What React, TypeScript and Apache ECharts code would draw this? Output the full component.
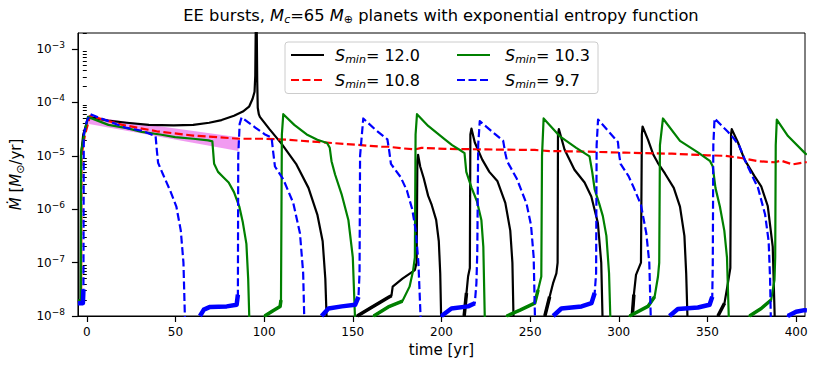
import { useEffect, useRef } from 'react';
import * as echarts from 'echarts';

const FONT = '"DejaVu Sans", "Liberation Sans", sans-serif';

// axis definitions (x in years, y in log10 of Mdot [Msun/yr])
const xTickValues = [0, 50, 100, 150, 200, 250, 300, 350, 400];
const xMin = -5;
const xMax = 405;
const yDecades = [-8, -7, -6, -5, -4, -3];
const yMin = -8;
const yMax = Math.log10(2e-3);
const yMinorTicks: number[] = [];
for (let e = -8; e <= -3; e++) {
  for (let k = 2; k <= 9; k++) {
    const v = e + Math.log10(k);
    if (v <= yMax + 1e-9) yMinorTicks.push(v);
  }
}

// ---- S_min = 12.0 (black, solid) ----
const blackT = [
  -5, -3.5, -3.3, -2, 0.9, 12, 22.5, 35, 49, 60, 69, 76, 83, 88, 91.5, 93.5, 94.6, 95.0, 95.3, 95.8, 96.1, 96.4, 97.0, 97.6,
  103, 110, 118, 125, 130, 133, 134.5, 135.2, 135.4,
  152.3, 152.5, 160, 165, 170.2, 171.8, 172.5, 178, 185, 186.0, 186.4, 186.8, 188, 190, 192.5, 194.5, 197, 198.5, 199.3, 199.8, 200,
  212.6, 212.8, 214.1, 215.0, 216.0, 216.3, 216.9, 218.8, 223, 227, 231.5, 236, 238.8, 240, 240.6, 240.8,
  258.1, 258.3, 261, 262.9, 264.8, 265.5, 265.7, 266.2, 269.4, 275, 280.7, 284.5, 288.2, 290.1, 290.8, 291.0,
  307.4, 307.6, 308.5, 309.7, 312.5, 313.0, 313.4, 316.5, 319.5, 322, 326, 331, 334.5, 337, 338, 338.7, 338.9,
  355.7, 355.9, 359.6, 361.5, 362.9, 363.3, 363.7, 367.2, 370.9, 376.5, 380.3, 384, 386.8, 387.9, 388.1, 406,
];
const blackLogMdot = [
  -7.72, -7.72, -5.0, -4.6, -4.27, -4.34, -4.38, -4.42, -4.43, -4.42, -4.38, -4.33, -4.25, -4.17, -4.08, -3.93, -3.8, -3.5, -2.5, -2.5, -3.6, -4.1, -4.22, -4.27,
  -4.5, -4.78, -5.15, -5.6, -6.1, -6.6, -7.3, -8.0, -8.6,
  -8.6, -8.0, -7.85, -7.75, -7.65, -7.62, -7.45, -7.3, -7.14, -7.0, -5.1, -4.98, -5.2, -5.42, -5.75, -5.92, -6.2, -6.6, -7.2, -8.0, -8.6,
  -8.6, -8.0, -7.57, -7.26, -7.1, -4.6, -4.49, -4.75, -5.07, -5.3, -5.47, -5.88, -6.4, -7.0, -8.0, -8.6,
  -8.6, -8.0, -7.64, -7.39, -7.2, -7.0, -4.6, -4.5, -4.88, -5.26, -5.5, -5.76, -6.26, -7.0, -8.0, -8.6,
  -8.6, -8.0, -7.6, -7.23, -7.0, -4.6, -4.45, -4.7, -4.98, -5.13, -5.33, -5.6, -5.95, -6.5, -7.2, -8.0, -8.6,
  -8.6, -8.0, -7.76, -7.39, -7.1, -4.6, -4.5, -4.75, -5.07, -5.38, -5.57, -5.94, -6.7, -8.0, -8.6, -8.6,
];

// ---- S_min = 10.8 (red, dashed) ----
const redT = [
  -5, -3.2, -3.0, -1, 1.9, 20, 39.4, 60, 86, 100.5, 113.7, 130, 151.3, 166.3, 170, 178, 185, 188.7, 201.9, 225, 252.6, 261,
  280, 303.3, 330, 350.2, 360, 369, 378.4, 387.8, 391.5, 398, 404.7, 406,
];
const redLogMdot = [
  -7.72, -7.72, -5.0, -4.6, -4.25, -4.42, -4.54, -4.62, -4.68, -4.68, -4.7, -4.74, -4.79, -4.83, -4.83, -4.86, -4.88, -4.85, -4.87, -4.88, -4.89, -4.91,
  -4.92, -4.94, -4.96, -4.99, -5.0, -5.04, -5.1, -5.12, -5.09, -5.16, -5.12, -5.12,
];

// ---- S_min = 10.3 (green, solid) ----
const greenT = [
  -5, -3.4, -3.2, -1.5, 0.6, 12.2, 22.5, 31, 41.3, 49.8, 60, 68.5, 70.8, 71.8, 74, 77, 80, 83, 86, 88, 90, 91, 91.6, 91.8,
  100.0, 100.3, 105, 109, 109.5, 110.0, 110.8, 117, 124, 130, 135.5, 137, 138, 140, 143.7, 147.5, 150, 151.2, 151.4,
  161.6, 161.8, 170, 178, 182, 184, 185.0, 185.4, 186.2, 192.5, 201.9, 206, 211.3, 213, 214, 217, 220, 222.5, 223.6, 224.4, 224.6,
  236.6, 236.8, 244.3, 252.6, 254.5, 256.3, 256.7, 257.6, 266.6, 276, 283.5, 285, 286.4, 289, 291, 293, 294.5, 295.2, 295.4,
  305.9, 306.1, 316.4, 320.2, 322.1, 322.8, 323.2, 324.9, 334.5, 344.8, 351.5, 353, 354.5, 357, 359.5, 361, 362, 362.2,
  373.5, 373.7, 380.3, 385.9, 387.8, 388.2, 388.5, 389.1, 395.4, 404.7, 406,
];
const greenLogMdot = [
  -7.72, -7.72, -4.94, -4.6, -4.27, -4.42, -4.48, -4.55, -4.6, -4.65, -4.68, -4.71, -4.73, -5.15, -5.3, -5.4, -5.5, -5.68, -5.95, -6.25, -6.65, -7.3, -8.0, -8.6,
  -8.6, -8.0, -7.9, -7.82, -7.7, -4.6, -4.22, -4.42, -4.6, -4.7, -4.76, -4.85, -5.1, -5.35, -5.72, -6.2, -6.9, -8.0, -8.6,
  -8.6, -8.0, -7.83, -7.72, -7.45, -7.15, -6.9, -4.6, -4.22, -4.44, -4.69, -4.8, -4.91, -4.95, -5.3, -5.6, -5.85, -6.2, -6.7, -8.0, -8.6,
  -8.6, -8.0, -7.89, -7.76, -7.51, -7.26, -5.0, -4.3, -4.63, -4.85, -5.01, -5.3, -5.63, -5.9, -6.13, -6.5, -7.2, -8.0, -8.6,
  -8.6, -8.0, -7.82, -7.64, -7.26, -7.0, -4.8, -4.3, -4.72, -4.94, -5.1, -5.2, -5.6, -5.95, -6.4, -6.9, -8.0, -8.6,
  -8.6, -8.0, -7.86, -7.7, -7.32, -6.9, -4.8, -4.32, -4.63, -4.94, -4.98,
];

// ---- S_min = 9.7 (blue, dashed) ----
const blueT = [
  -5, -2.2, -1.9, -1.7, 0, 1.9, 12.2, 21.6, 31, 38.8, 39.5, 40.2, 43, 47, 50.5, 53, 54.5, 55.3, 55.5,
  63.6, 63.8, 66, 69.5, 78.9, 84.5, 85.2, 85.4, 86.2, 87.3, 95, 100.5, 104.2, 105, 106.1, 110.8, 116.4, 120.2, 122, 122.6, 122.8,
  132.2, 132.4, 136.3, 143.8, 151.3, 153.2, 153.8, 154.1, 155.9, 162.4, 169.5, 170.5, 171.5, 177, 180.5, 183.5, 185.5, 187, 188.2, 188.4,
  199.8, 200, 205.6, 215, 218.8, 219.7, 220.2, 220.7, 221.6, 234.8, 236, 237, 242.5, 248, 250.5, 252, 252.7, 252.9,
  262.8, 263, 267.6, 279, 284.6, 286.4, 287.2, 287.5, 288.3, 299.5, 300.3, 301, 305.5, 308.5, 312.5, 315.5, 317.2, 318, 318.2,
  328.4, 328.6, 333.3, 344.6, 351.2, 352.7, 353.0, 353.3, 354, 361.5, 365, 368, 372, 378.5, 382.5, 384.5, 385.3, 385.7, 385.9,
  395.1, 395.3, 400, 404.7, 406,
];
const blueLogMdot = [
  -7.76, -7.76, -7.5, -4.6, -4.35, -4.22, -4.35, -4.47, -4.53, -4.63, -4.9, -5.13, -5.35, -5.65, -5.95, -6.4, -7.0, -8.0, -8.6,
  -8.6, -8.0, -7.88, -7.83, -7.82, -7.79, -7.6, -5.0, -4.4, -4.28, -4.47, -4.6, -4.66, -4.9, -5.2, -5.44, -5.88, -6.45, -7.19, -8.0, -8.6,
  -8.6, -8.0, -7.86, -7.82, -7.79, -7.64, -7.2, -5.0, -4.3, -4.5, -4.69, -4.9, -5.15, -5.4, -5.65, -6.0, -6.4, -7.0, -8.0, -8.6,
  -8.6, -8.0, -7.86, -7.82, -7.76, -7.39, -6.8, -4.8, -4.35, -4.72, -4.95, -5.1, -5.43, -5.9, -6.3, -6.9, -8.0, -8.6,
  -8.6, -8.0, -7.86, -7.82, -7.76, -7.57, -7.2, -4.8, -4.32, -4.74, -5.0, -5.15, -5.38, -5.6, -5.92, -6.45, -7.0, -8.0, -8.6,
  -8.6, -8.0, -7.87, -7.84, -7.79, -7.64, -7.0, -4.8, -4.3, -4.55, -4.68, -4.82, -5.15, -5.6, -6.1, -6.6, -7.3, -8.0, -8.6,
  -8.6, -8.0, -7.92, -7.89, -7.89,
];

// ---- shaded (violet) band ----
const bandT = [0.5, 85.5];
const bandUpperLog = [-4.26, -4.65];
const bandLowerLog = [-4.4, -4.91];

const legendLabels = ['12.0', '10.3', '10.8', '9.7'];

function pairs(t: number[], v: number[]) {
  return t.map((x, i) => [x, v[i]]);
}
// the noisy low-level plateaus look like thick strokes in the reference
function plateau(t: number[], v: number[], thr: number) {
  return t.map((x, i) => [x, v[i] <= thr && v[i] >= -8.05 ? v[i] : '-']);
}

export default function App() {
  const ref = useRef<HTMLDivElement>(null);

  useEffect(() => {
    if (!ref.current) return;
    const chart = echarts.init(ref.current, null, { renderer: 'svg' });

    const lineBase = {
      type: 'line',
      showSymbol: false,
      symbol: 'none',
      clip: true,
      silent: true,
      animation: false,
      xAxisIndex: 0,
      yAxisIndex: 0,
    };
    const dash = [8, 3.5];

    const legendItem = (col: number, row: number, color: string, dashed: boolean, label: string) => {
      const lx = col === 0 ? 291 : 457;
      const tx = col === 0 ? 335 : 505;
      const y = row === 0 ? 55 : 80;
      return [
        {
          type: 'line',
          z: 101,
          shape: { x1: lx, y1: y, x2: lx + 33, y2: y },
          style: { stroke: color, lineWidth: 2.2, lineDash: dashed ? dash : null },
        },
        {
          type: 'text',
          z: 101,
          x: tx,
          y: y,
          style: {
            text: `{i|S}{sub|min}{n|= ${label}}`,
            align: 'left',
            verticalAlign: 'middle',
            fill: '#000',
            rich: {
              i: { fontFamily: FONT, fontSize: 16, fontStyle: 'italic', lineHeight: 20, fill: '#000' },
              sub: { fontFamily: FONT, fontSize: 11, fontStyle: 'italic', lineHeight: 8, verticalAlign: 'bottom', fill: '#000' },
              n: { fontFamily: FONT, fontSize: 16, lineHeight: 20, fill: '#000' },
            },
          },
        },
      ];
    };

    const option: any = {
      animation: false,
      grid: {
        left: 77.5,
        right: 17,
        top: 33,
        bottom: 54,
        show: true,
        borderColor: '#000',
        borderWidth: 1,
        containLabel: false,
      },
      xAxis: [
        {
          type: 'value',
          min: xMin,
          max: xMax,
          axisLine: { show: true, onZero: false, lineStyle: { color: '#000', width: 1 } },
          axisTick: { show: true, length: 6, customValues: xTickValues, lineStyle: { color: '#000', width: 1.2 } },
          axisLabel: { customValues: xTickValues, color: '#000', fontFamily: FONT, fontSize: 12, margin: 10 },
          splitLine: { show: false },
          name: 'time [yr]',
          nameLocation: 'middle',
          nameGap: 26,
          nameTextStyle: { color: '#000', fontFamily: FONT, fontSize: 15 },
        },
      ],
      yAxis: [
        {
          type: 'value',
          min: yMin,
          max: yMax,
          axisLine: { show: true, onZero: false, lineStyle: { color: '#000', width: 1 } },
          axisTick: { show: true, length: 6, customValues: yDecades, lineStyle: { color: '#000', width: 1.2 } },
          axisLabel: {
            customValues: yDecades,
            margin: 13,
            formatter: (v: number) => `{b|10}{s|\u2212${Math.abs(Math.round(v))}}`,
            rich: {
              b: { fontFamily: FONT, fontSize: 12, lineHeight: 17, color: '#000' },
              s: { fontFamily: FONT, fontSize: 9, lineHeight: 9, verticalAlign: 'top', color: '#000' },
            },
          },
          splitLine: { show: false },
          name: '{i|\u1E40}{n| [}{i|M}{sub|\u2299}{n|/yr]}',
          nameLocation: 'middle',
          nameRotate: 90,
          nameGap: 35,
          nameTextStyle: {
            color: '#000',
            fontFamily: FONT,
            fontSize: 15,
            rich: {
              i: { fontFamily: FONT, fontSize: 15, fontStyle: 'italic', lineHeight: 20, color: '#000' },
              n: { fontFamily: FONT, fontSize: 15, lineHeight: 20, color: '#000' },
              sub: { fontFamily: FONT, fontSize: 11, lineHeight: 8, verticalAlign: 'bottom', color: '#000' },
            },
          },
        },
        {
          type: 'value',
          min: yMin,
          max: yMax,
          position: 'left',
          axisLine: { show: false },
          axisTick: { show: true, length: 4, customValues: yMinorTicks, lineStyle: { color: '#000', width: 1 } },
          axisLabel: { show: false },
          splitLine: { show: false },
        },
      ],
      graphic: [
        {
          type: 'text',
          x: 441,
          y: 15,
          z: 100,
          style: {
            text: '{n|EE bursts, }{i|M}{sub|c}{n|=65 }{i|M}{sub|\u2295}{n| planets with exponential entropy function}',
            align: 'center',
            verticalAlign: 'middle',
            fill: '#000',
            rich: {
              n: { fontFamily: FONT, fontSize: 16.3, lineHeight: 20, fill: '#000' },
              i: { fontFamily: FONT, fontSize: 16.3, fontStyle: 'italic', lineHeight: 20, fill: '#000' },
              sub: { fontFamily: FONT, fontSize: 11, fontStyle: 'italic', lineHeight: 8, verticalAlign: 'bottom', fill: '#000' },
            },
          },
        },
        {
          type: 'rect',
          z: 100,
          shape: { x: 285, y: 42, width: 313, height: 51.5, r: 3 },
          style: { fill: 'rgba(255,255,255,0.8)', stroke: '#cccccc', lineWidth: 1 },
        },
        ...legendItem(0, 0, '#000000', false, legendLabels[0]),
        ...legendItem(1, 0, '#008000', false, legendLabels[1]),
        ...legendItem(0, 1, '#ff0000', true, legendLabels[2]),
        ...legendItem(1, 1, '#0000ff', true, legendLabels[3]),
      ],
      series: [
        {
          type: 'custom',
          coordinateSystem: 'cartesian2d',
          xAxisIndex: 0,
          yAxisIndex: 0,
          silent: true,
          z: 1,
          data: bandT.map((t, i) => [t, bandLowerLog[i], bandUpperLog[i]]),
          encode: { x: 0, y: [1, 2] },
          renderItem: (params: any, api: any) => {
            if (params.dataIndex !== 0) return { type: 'group', children: [] };
            const up = bandT.map((t, i) => api.coord([t, bandUpperLog[i]]));
            const lo = bandT.map((t, i) => api.coord([t, bandLowerLog[i]])).reverse();
            return {
              type: 'polygon',
              shape: { points: up.concat(lo) },
              style: { fill: 'rgba(238,130,238,0.8)', stroke: 'none' },
            };
          },
        },
        {
          ...lineBase,
          name: 'S_min = 12.0',
          data: pairs(blackT, blackLogMdot),
          lineStyle: { color: '#000000', width: 2.2, join: 'round' },
        },
        {
          ...lineBase,
          name: 'black plateau',
          data: plateau(blackT, blackLogMdot, -7.5),
          lineStyle: { color: '#000000', width: 3.5, join: 'round' },
        },
        {
          ...lineBase,
          name: 'S_min = 10.8',
          data: pairs(redT, redLogMdot),
          lineStyle: { color: '#ff0000', width: 2.2, type: dash, cap: 'butt', join: 'round' },
        },
        {
          ...lineBase,
          name: 'S_min = 10.3',
          data: pairs(greenT, greenLogMdot),
          lineStyle: { color: '#008000', width: 2.2, join: 'round' },
        },
        {
          ...lineBase,
          name: 'green plateau',
          data: plateau(greenT, greenLogMdot, -7.5),
          lineStyle: { color: '#008000', width: 3.5, join: 'round' },
        },
        {
          ...lineBase,
          name: 'S_min = 9.7',
          data: pairs(blueT, blueLogMdot),
          lineStyle: { color: '#0000ff', width: 2.2, type: dash, cap: 'butt', join: 'round' },
        },
        {
          ...lineBase,
          name: 'blue plateau',
          data: plateau(blueT, blueLogMdot, -7.5),
          lineStyle: { color: '#0000ff', width: 4.5, join: 'round' },
        },
      ],
    };

    chart.setOption(option);
    return () => {
      chart.dispose();
    };
  }, []);

  return (
    <div
      ref={ref}
      style={{ position: 'fixed', left: 0, top: 0, width: 822, height: 370, background: '#fff' }}
    />
  );
}
